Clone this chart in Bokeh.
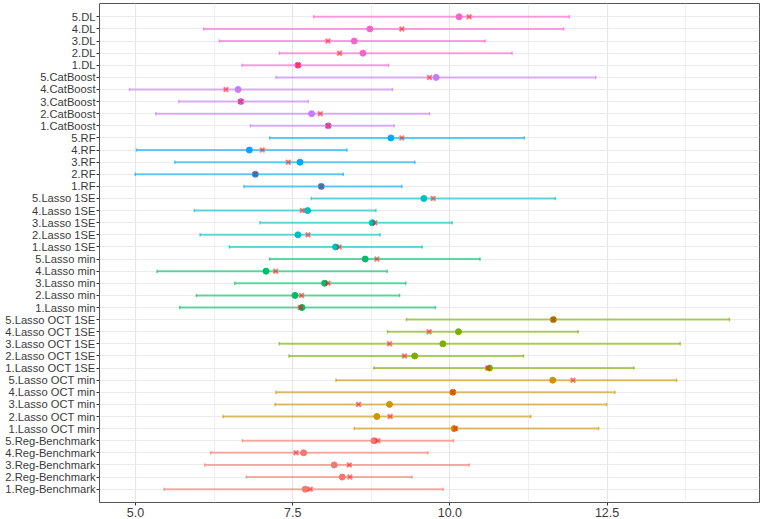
import numpy as np
from bokeh.plotting import figure
from bokeh.models import FactorRange, Range1d, FixedTicker, ColumnDataSource
from bokeh.embed import file_html
from bokeh.resources import INLINE

methods = ["Reg-Benchmark", "Lasso OCT min", "Lasso OCT 1SE", "Lasso min",
           "Lasso 1SE", "RF", "CatBoost", "DL"]
method_colors = ["#F8766D", "#CD9600", "#7CAE00", "#00BE67",
                 "#00BFC4", "#00A9FF", "#C77CFF", "#FF61CC"]
folds = ["1", "2", "3", "4", "5"]

# rows listed bottom -> top (method by method, fold 1..5)
lower = [5.456, 6.763, 6.101, 6.196, 6.700,
         8.479, 6.393, 7.219, 7.235, 8.188,
         8.792, 7.441, 7.288, 9.008, 9.310,
         5.704, 5.969, 6.578, 5.344, 7.134,
         6.493, 6.027, 6.980, 5.937, 7.796,
         6.727, 4.995, 5.625, 5.016, 7.134,
         6.827, 5.323, 5.688, 4.905, 7.235,
         6.695, 7.288, 6.334, 6.085, 7.833]
upper = [9.893, 9.395, 10.306, 9.650, 10.057,
         12.366, 11.286, 12.493, 12.625, 13.605,
         12.927, 11.170, 13.663, 12.040, 14.447,
         9.770, 9.200, 9.300, 9.003, 10.480,
         9.559, 8.890, 10.036, 8.824, 11.677,
         9.236, 8.304, 9.443, 8.363, 11.185,
         9.114, 9.676, 7.748, 9.087, 12.320,
         9.024, 10.990, 10.560, 11.810, 11.900]
point = [7.700, 8.288, 8.161, 7.674, 8.792,
         10.068, 8.839, 9.040, 10.047, 11.636,
         10.630, 9.440, 9.888, 10.136, 11.646,
         7.648, 7.537, 8.007, 7.076, 8.654,
         8.182, 7.584, 8.765, 7.738, 9.586,
         7.955, 6.906, 7.616, 6.811, 9.062,
         8.066, 7.801, 6.679, 6.631, 9.782,
         7.584, 8.617, 8.479, 8.728, 10.147]
cross = [7.780, 8.410, 8.400, 7.553, 8.855,
         10.090, 9.051, 8.548, 10.047, 11.958,
         10.600, 9.278, 9.040, 9.670, 11.646,
         7.621, 7.642, 8.061, 7.229, 8.839,
         8.240, 7.743, 8.807, 7.653, 9.734,
         7.955, 6.906, 7.430, 7.017, 9.236,
         8.066, 7.939, 6.670, 6.440, 9.676,
         7.584, 8.246, 8.061, 9.236, 10.306]

x_ticks = [5.0, 7.5, 10.0, 12.5]
x_minor = [6.25, 8.75, 11.25, 13.75]

labels = [f"{f}.{m}" for m in methods for f in folds]
colors = [c for c in method_colors for _ in folds]

src = ColumnDataSource(dict(y=labels, lo=lower, hi=upper, pt=point,
                            cx=cross, color=colors))

span = max(upper) - min(lower)
x0 = min(lower) - 0.05 * span
x1 = max(upper) + 0.05 * span

FONT = "Liberation Sans"

p = figure(width=760, height=517, output_backend="svg", toolbar_location=None,
           y_range=FactorRange(*labels, range_padding=0.6, range_padding_units="absolute"),
           x_range=Range1d(x0, x1),
           min_border_left=0, min_border_right=3, min_border_top=1, min_border_bottom=0)
p.styles = {"position": "absolute", "left": "2px", "top": "2px"}

p.background_fill_color = "white"
p.outline_line_color = "#555555"
p.outline_line_width = 1

p.xgrid.grid_line_color = "#E6E6E6"
p.xgrid.grid_line_width = 1.2
p.xgrid.minor_grid_line_color = "#EEEEEE"
p.xgrid.minor_grid_line_width = 1
p.ygrid.grid_line_color = "#EBEBEB"
p.ygrid.grid_line_width = 1.2

p.xaxis.ticker = FixedTicker(ticks=x_ticks, minor_ticks=x_minor)
p.xaxis.major_label_overrides = {t: f"{t:.1f}" for t in x_ticks}
for ax in (p.xaxis[0], p.yaxis[0]):
    ax.axis_line_color = None
    ax.major_tick_in = 0
    ax.major_tick_out = 3
    ax.minor_tick_out = 0
    ax.minor_tick_in = 0
    ax.major_tick_line_color = "#333333"
    ax.major_label_text_font = FONT
    ax.major_label_text_color = "#3A3A3A"
    ax.major_label_standoff = 2
p.yaxis.major_label_standoff = 1
p.yaxis.major_label_text_font_size = "11.2px"
p.xaxis.major_label_text_font_size = "12.5px"

p.segment(x0="lo", y0="y", x1="hi", y1="y", line_color="color", line_width=2,
          line_alpha=0.6, source=src)
p.scatter(x="lo", y="y", marker="dash", angle=np.pi / 2, size=3.5, line_width=1.5,
          line_color="color", line_alpha=0.6, source=src)
p.scatter(x="hi", y="y", marker="dash", angle=np.pi / 2, size=3.5, line_width=1.5,
          line_color="color", line_alpha=0.6, source=src)
p.scatter(x="pt", y="y", marker="circle", size=6, fill_color="color",
          line_color="color", source=src)
p.scatter(x="cx", y="y", marker="x", size=6.5, line_color="#FF0000", line_width=2,
          line_alpha=0.5, source=src)

open("out.html", "w").write(file_html(p, INLINE))
